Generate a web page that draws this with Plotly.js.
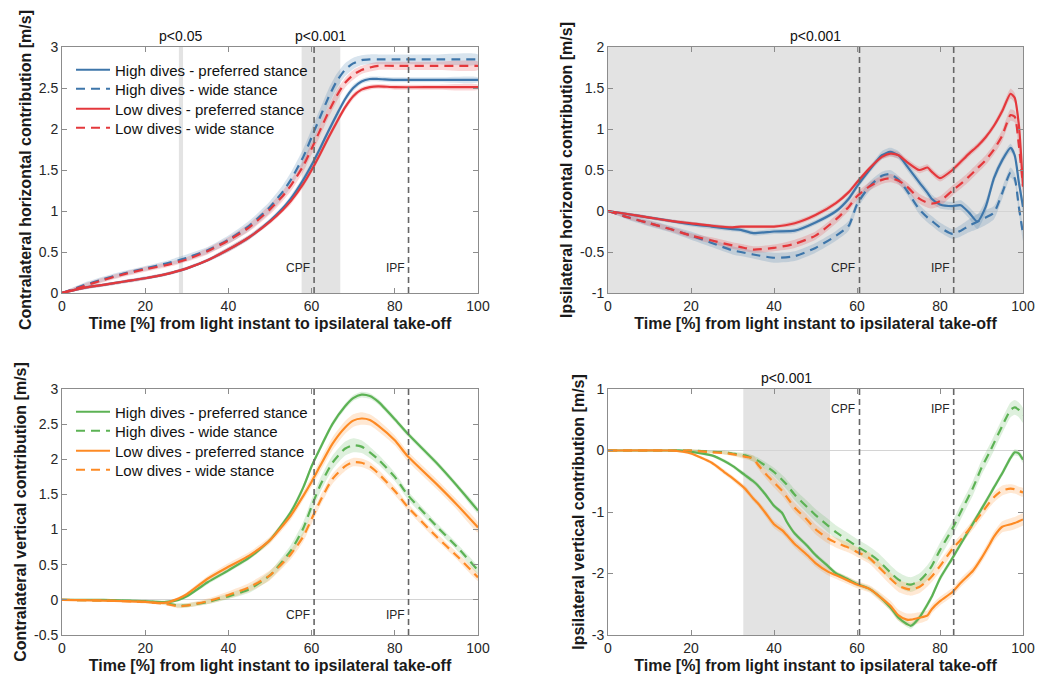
<!DOCTYPE html>
<html>
<head>
<meta charset="utf-8">
<script src="https://cdn.plot.ly/plotly-3.0.1.min.js"></script>
<style>html,body{margin:0;padding:0;background:#fff;}#chart{width:1037px;height:680px;}</style>
</head>
<body>
<div id="chart"></div>
<script>
// ---------- DATA ----------
const seriesNames = ["High dives - preferred stance", "High dives - wide stance", "Low dives - preferred stance", "Low dives - wide stance"];
const xTicks = [0, 20, 40, 60, 80, 100];
const xTickText = ["0", "20", "40", "60", "80", "100"];
const eventX = [60.6, 83.3];
const eventLabels = ["CPF", "IPF"];

// Panel A: contralateral horizontal contribution
const xA = [0,5,10,15,20,25,28,30,35,40,45,50,53,55,58,60,62,64,66,68,70,72,74,76,80,90,100];
const highPrefA = [0,0.06,0.10,0.14,0.18,0.23,0.27,0.30,0.40,0.53,0.68,0.88,1.03,1.15,1.38,1.56,1.76,1.97,2.17,2.36,2.50,2.58,2.61,2.61,2.60,2.60,2.60];
const highWideA = [0,0.09,0.17,0.24,0.30,0.36,0.40,0.43,0.52,0.65,0.82,1.05,1.23,1.38,1.66,1.90,2.14,2.38,2.58,2.72,2.80,2.84,2.85,2.85,2.85,2.85,2.85];
const lowPrefA  = [0,0.06,0.10,0.14,0.18,0.23,0.27,0.30,0.40,0.53,0.68,0.87,1.01,1.12,1.33,1.50,1.69,1.89,2.08,2.26,2.40,2.48,2.51,2.52,2.51,2.51,2.51];
const lowWideA  = [0,0.08,0.16,0.23,0.29,0.34,0.38,0.41,0.51,0.64,0.80,1.02,1.18,1.31,1.55,1.76,1.98,2.20,2.40,2.56,2.66,2.72,2.75,2.77,2.77,2.77,2.77];
const ciHighPrefA = [0.01,0.02,0.02,0.02,0.02,0.02,0.02,0.02,0.02,0.03,0.03,0.03,0.03,0.04,0.04,0.04,0.04,0.04,0.04,0.04,0.04,0.03,0.03,0.03,0.03,0.03,0.03];
const ciHighWideA = [0.01,0.03,0.03,0.03,0.03,0.03,0.04,0.04,0.04,0.05,0.06,0.07,0.08,0.09,0.10,0.10,0.10,0.10,0.09,0.08,0.07,0.06,0.06,0.06,0.06,0.06,0.06];
const ciLowPrefA  = [0.01,0.02,0.02,0.02,0.02,0.02,0.02,0.02,0.02,0.03,0.03,0.03,0.03,0.04,0.04,0.04,0.04,0.04,0.04,0.04,0.04,0.03,0.03,0.03,0.03,0.03,0.03];
const ciLowWideA  = [0.01,0.03,0.03,0.03,0.03,0.03,0.03,0.03,0.04,0.04,0.05,0.06,0.06,0.07,0.07,0.07,0.07,0.07,0.07,0.06,0.06,0.05,0.05,0.05,0.05,0.05,0.05];
const sigA = [[28.1, 29.1], [57.6, 66.9]];
const sigLabelsA = ["p<0.05", "p<0.001"];
const yTicksA = [0, 0.5, 1, 1.5, 2, 2.5, 3];
const yTickTextA = ["0", "0.5", "1", "1.5", "2", "2.5", "3"];

// Panel B: ipsilateral horizontal contribution
const xB = [0,5,10,15,20,25,30,32,35,40,45,50,55,58,60,63,66,68,70,72,75,77,78,80,83,85,87,89,91,93,95,97,98,99,100];
const highPrefB = [0,-0.04,-0.08,-0.12,-0.16,-0.19,-0.22,-0.23,-0.27,-0.25,-0.24,-0.14,0.00,0.15,0.30,0.50,0.68,0.72,0.68,0.55,0.35,0.22,0.15,0.08,0.06,0.07,-0.02,-0.13,0.05,0.40,0.62,0.77,0.68,0.35,0.05];
const highWideB = [0,-0.08,-0.15,-0.22,-0.30,-0.39,-0.48,-0.50,-0.53,-0.57,-0.55,-0.45,-0.30,-0.18,0.08,0.30,0.43,0.45,0.38,0.25,0.02,-0.08,-0.12,-0.20,-0.28,-0.24,-0.18,-0.13,-0.08,-0.02,0.22,0.47,0.40,0.05,-0.28];
const lowPrefB  = [0,-0.04,-0.08,-0.12,-0.15,-0.18,-0.20,-0.19,-0.19,-0.19,-0.15,-0.05,0.10,0.23,0.35,0.52,0.66,0.70,0.68,0.60,0.50,0.53,0.48,0.40,0.50,0.60,0.70,0.79,0.90,1.04,1.22,1.43,1.38,1.05,0.30];
const lowWideB  = [0,-0.08,-0.15,-0.22,-0.30,-0.36,-0.42,-0.44,-0.47,-0.45,-0.40,-0.30,-0.10,0.05,0.18,0.30,0.38,0.40,0.37,0.30,0.15,0.10,0.09,0.12,0.25,0.33,0.42,0.52,0.62,0.75,0.92,1.17,1.15,0.80,0.30];
const ciHighPrefB = [0.01,0.02,0.02,0.02,0.03,0.03,0.03,0.03,0.03,0.03,0.03,0.03,0.03,0.04,0.04,0.04,0.05,0.05,0.05,0.05,0.05,0.05,0.05,0.05,0.05,0.06,0.07,0.09,0.08,0.06,0.05,0.05,0.05,0.06,0.08];
const ciHighWideB = [0.01,0.03,0.04,0.04,0.05,0.05,0.05,0.05,0.05,0.06,0.06,0.06,0.06,0.06,0.06,0.06,0.05,0.05,0.05,0.05,0.06,0.06,0.06,0.06,0.06,0.07,0.08,0.09,0.09,0.08,0.07,0.06,0.06,0.07,0.08];
const ciLowPrefB  = [0.01,0.02,0.02,0.02,0.02,0.02,0.02,0.02,0.02,0.02,0.03,0.03,0.03,0.03,0.03,0.03,0.03,0.04,0.04,0.04,0.04,0.04,0.04,0.04,0.04,0.04,0.04,0.04,0.04,0.04,0.05,0.06,0.06,0.07,0.08];
const ciLowWideB  = [0.01,0.02,0.03,0.03,0.03,0.04,0.04,0.04,0.04,0.04,0.05,0.05,0.05,0.05,0.05,0.05,0.05,0.05,0.05,0.05,0.06,0.06,0.06,0.06,0.06,0.06,0.06,0.06,0.06,0.06,0.07,0.07,0.07,0.08,0.08];
const sigB = [[0, 100]];
const sigLabelsB = ["p<0.001"];
const yTicksB = [-1, -0.5, 0, 0.5, 1, 1.5, 2];
const yTickTextB = ["-1", "-0.5", "0", "0.5", "1", "1.5", "2"];

// Panel C: contralateral vertical contribution
const xC = [0,10,20,25,28,30,35,40,45,50,55,58,60,62,65,68,70,72,74,76,80,83,90,95,100];
const highPrefC = [0,0.00,-0.02,-0.03,0.00,0.05,0.25,0.42,0.60,0.85,1.25,1.60,1.90,2.15,2.50,2.75,2.87,2.92,2.90,2.82,2.57,2.37,1.95,1.62,1.27];
const highWideC = [0,-0.01,-0.02,-0.05,-0.08,-0.08,-0.03,0.05,0.15,0.35,0.70,1.02,1.33,1.62,1.95,2.15,2.20,2.18,2.10,2.00,1.75,1.50,1.05,0.75,0.42];
const lowPrefC  = [0,-0.01,-0.03,-0.04,0.02,0.08,0.30,0.47,0.63,0.85,1.20,1.48,1.68,1.90,2.22,2.45,2.55,2.58,2.56,2.48,2.27,2.05,1.65,1.35,1.03];
const lowWideC  = [0,-0.01,-0.03,-0.06,-0.09,-0.08,-0.02,0.07,0.18,0.35,0.65,0.90,1.15,1.40,1.72,1.90,1.96,1.95,1.90,1.80,1.55,1.33,0.90,0.62,0.32];
const ciHighPrefC = [0.01,0.01,0.02,0.02,0.02,0.02,0.03,0.03,0.03,0.03,0.04,0.04,0.04,0.04,0.04,0.04,0.04,0.04,0.04,0.04,0.04,0.04,0.04,0.04,0.04];
const ciHighWideC = [0.01,0.01,0.02,0.02,0.03,0.03,0.03,0.04,0.05,0.06,0.08,0.09,0.10,0.10,0.10,0.10,0.10,0.09,0.08,0.07,0.06,0.06,0.05,0.05,0.05];
const ciLowPrefC  = [0.01,0.01,0.02,0.02,0.02,0.03,0.04,0.05,0.05,0.05,0.06,0.06,0.07,0.08,0.09,0.09,0.09,0.09,0.08,0.08,0.07,0.07,0.07,0.07,0.07];
const ciLowWideC  = [0.01,0.01,0.02,0.02,0.03,0.03,0.04,0.05,0.06,0.07,0.07,0.07,0.07,0.07,0.07,0.07,0.06,0.06,0.06,0.06,0.06,0.05,0.05,0.05,0.05];
const yTicksC = [-0.5, 0, 0.5, 1, 1.5, 2, 2.5, 3];
const yTickTextC = ["-0.5", "0", "0.5", "1", "1.5", "2", "2.5", "3"];

// Panel D: ipsilateral vertical contribution
const xD = [0,15,18,20,25,28,30,33,35,36,38,40,42,43,45,48,50,53,55,58,60,63,65,68,70,72,73,75,77,78,80,83,85,88,90,92,93,95,97,98,99,100];
const highPrefD = [0,0,0,-0.02,-0.08,-0.17,-0.25,-0.40,-0.50,-0.56,-0.72,-0.90,-1.02,-1.15,-1.35,-1.55,-1.70,-1.88,-2.00,-2.10,-2.17,-2.25,-2.35,-2.55,-2.72,-2.82,-2.85,-2.72,-2.50,-2.38,-2.08,-1.75,-1.52,-1.18,-0.95,-0.72,-0.60,-0.37,-0.12,-0.03,-0.05,-0.15];
const highWideD = [0,0,0,0,-0.02,-0.03,-0.05,-0.08,-0.13,-0.16,-0.25,-0.35,-0.48,-0.55,-0.72,-0.92,-1.05,-1.22,-1.33,-1.47,-1.56,-1.68,-1.78,-1.98,-2.10,-2.17,-2.18,-2.12,-1.98,-1.88,-1.62,-1.27,-1.00,-0.60,-0.28,-0.02,0.12,0.40,0.66,0.70,0.66,0.57];
const lowPrefD  = [0,0,-0.02,-0.05,-0.20,-0.35,-0.45,-0.62,-0.78,-0.85,-1.02,-1.20,-1.30,-1.37,-1.52,-1.70,-1.83,-1.97,-2.03,-2.12,-2.18,-2.25,-2.35,-2.52,-2.68,-2.75,-2.75,-2.72,-2.68,-2.58,-2.45,-2.30,-2.15,-1.95,-1.75,-1.52,-1.40,-1.24,-1.20,-1.18,-1.15,-1.12];
const lowWideD  = [0,0,0,0,-0.03,-0.04,-0.06,-0.10,-0.13,-0.22,-0.38,-0.52,-0.66,-0.75,-0.93,-1.13,-1.28,-1.43,-1.50,-1.58,-1.65,-1.75,-1.88,-2.08,-2.20,-2.25,-2.26,-2.22,-2.12,-2.05,-1.88,-1.60,-1.45,-1.20,-1.02,-0.84,-0.76,-0.65,-0.62,-0.63,-0.66,-0.68];
const ciHighPrefD = [0.01,0.01,0.01,0.02,0.02,0.03,0.03,0.04,0.04,0.04,0.04,0.04,0.04,0.04,0.04,0.04,0.04,0.04,0.04,0.04,0.04,0.04,0.05,0.05,0.05,0.05,0.05,0.05,0.05,0.05,0.05,0.05,0.05,0.05,0.05,0.05,0.05,0.05,0.05,0.05,0.05,0.05];
const ciHighWideD = [0.01,0.01,0.01,0.02,0.02,0.03,0.03,0.04,0.05,0.05,0.06,0.07,0.08,0.08,0.09,0.10,0.10,0.11,0.11,0.12,0.12,0.12,0.12,0.12,0.12,0.12,0.12,0.12,0.12,0.12,0.12,0.12,0.12,0.12,0.12,0.12,0.12,0.12,0.12,0.12,0.12,0.12];
const ciLowPrefD  = [0.01,0.01,0.02,0.02,0.03,0.04,0.04,0.05,0.05,0.05,0.06,0.06,0.06,0.06,0.06,0.06,0.06,0.06,0.06,0.06,0.06,0.06,0.07,0.08,0.09,0.10,0.10,0.09,0.08,0.07,0.07,0.07,0.07,0.07,0.07,0.08,0.08,0.09,0.10,0.10,0.10,0.10];
const ciLowWideD  = [0.01,0.01,0.01,0.02,0.02,0.03,0.03,0.04,0.05,0.06,0.07,0.08,0.08,0.08,0.08,0.08,0.08,0.08,0.08,0.08,0.08,0.09,0.09,0.10,0.10,0.10,0.10,0.10,0.09,0.09,0.09,0.08,0.08,0.08,0.08,0.08,0.08,0.08,0.07,0.07,0.07,0.07];
const sigD = [[32.6, 53.5]];
const sigLabelsD = ["p<0.001"];
const yTicksD = [-3, -2, -1, 0, 1];
const yTickTextD = ["-3", "-2", "-1", "0", "1"];

const yTitleA = "Contralateral horizontal contribution [m/s]";
const yTitleB = "Ipsilateral horizontal contribution [m/s]";
const yTitleC = "Contralateral vertical contribution [m/s]";
const yTitleD = "Ipsilateral vertical contribution [m/s]";
const xTitle = "Time [%] from light instant to ipsilateral take-off";
const figTitle = "b) Comparison of stances (HD vs LD)";

// ---------- STYLE ----------
const FONT = "Liberation Sans, Arial, sans-serif";
const BLUE = [62, 118, 170], RED = [228, 56, 60], GREEN = [92, 178, 84], ORANGE = [253, 138, 36];
const rgb = (c) => `rgb(${c[0]},${c[1]},${c[2]})`;
const rgba = (c, a) => `rgba(${c[0]},${c[1]},${c[2]},${a})`;
const DASH = "9px,6px";
const W = 1037, H = 680;

const traces = [];
// one single-entry legend per row, so rows can be spaced like the reference
const legendRowsTop = [70, 89, 109, 128];
const legendRowsBottom = [412, 431, 451, 470];
const legendDefs = {};
function addPanel(x, list, xa, ya, legendPrefix, rows) {
  list.forEach(s => {
    const up = s.y.map((v, i) => v + s.ci[i]);
    const lo = s.y.map((v, i) => v - s.ci[i]);
    traces.push({
      x: x.concat(x.slice().reverse()),
      y: up.concat(lo.slice().reverse()),
      xaxis: xa, yaxis: ya, type: "scatter", mode: "lines",
      fill: "toself", fillcolor: rgba(s.c, 0.2),
      line: {width: 0, shape: "spline", smoothing: 0.6},
      hoverinfo: "skip", showlegend: false
    });
  });
  list.forEach((s, k) => {
    const t = {
      x: x, y: s.y, xaxis: xa, yaxis: ya, type: "scatter", mode: "lines",
      name: s.name,
      line: {color: rgb(s.c), width: 2.2, dash: s.dash ? DASH : "solid", shape: "spline", smoothing: 0.6},
      showlegend: legendPrefix !== null
    };
    if (legendPrefix !== null) {
      const idx = legendPrefix + k;
      const key = idx === 1 ? "legend" : "legend" + idx;
      t.legend = key;
      legendDefs[key] = {
        x: 71 / W, y: 1 - rows[k] / H, xanchor: "left", yanchor: "middle",
        bgcolor: "rgba(0,0,0,0)", borderwidth: 0, itemwidth: 34,
        font: {family: FONT, size: 15, color: "#111"}
      };
    }
    traces.push(t);
  });
}

addPanel(xA, [
  {y: highPrefA, ci: ciHighPrefA, c: BLUE, dash: false, name: seriesNames[0]},
  {y: highWideA, ci: ciHighWideA, c: BLUE, dash: true, name: seriesNames[1]},
  {y: lowPrefA, ci: ciLowPrefA, c: RED, dash: false, name: seriesNames[2]},
  {y: lowWideA, ci: ciLowWideA, c: RED, dash: true, name: seriesNames[3]}
], "x", "y", 1, legendRowsTop);
addPanel(xB, [
  {y: highPrefB, ci: ciHighPrefB, c: BLUE, dash: false},
  {y: highWideB, ci: ciHighWideB, c: BLUE, dash: true},
  {y: lowPrefB, ci: ciLowPrefB, c: RED, dash: false},
  {y: lowWideB, ci: ciLowWideB, c: RED, dash: true}
], "x2", "y2", null, null);
addPanel(xC, [
  {y: highPrefC, ci: ciHighPrefC, c: GREEN, dash: false, name: seriesNames[0]},
  {y: highWideC, ci: ciHighWideC, c: GREEN, dash: true, name: seriesNames[1]},
  {y: lowPrefC, ci: ciLowPrefC, c: ORANGE, dash: false, name: seriesNames[2]},
  {y: lowWideC, ci: ciLowWideC, c: ORANGE, dash: true, name: seriesNames[3]}
], "x3", "y3", 5, legendRowsBottom);
addPanel(xD, [
  {y: highPrefD, ci: ciHighPrefD, c: GREEN, dash: false},
  {y: highWideD, ci: ciHighWideD, c: GREEN, dash: true},
  {y: lowPrefD, ci: ciLowPrefD, c: ORANGE, dash: false},
  {y: lowWideD, ci: ciLowWideD, c: ORANGE, dash: true}
], "x4", "y4", null, null);

const dxL = [62 / W, 478 / W], dxR = [608 / W, 1023 / W];
const dyT = [1 - 293 / H, 1 - 47 / H], dyB = [1 - 635 / H, 1 - 389 / H];

function xaxis(domain, anchor) {
  return {
    domain: domain, anchor: anchor, range: [0, 100],
    tickmode: "array", tickvals: xTicks, ticktext: xTickText,
    ticks: "inside", ticklen: 5, tickcolor: "#8c8c8c", showline: true, linecolor: "#8c8c8c", linewidth: 1,
    mirror: "ticks", showgrid: false, zeroline: false,
    tickfont: {family: FONT, size: 14, color: "#262626"},
    title: {text: xTitle, font: {family: FONT, size: 16, color: "#1a1a1a", weight: "bold"}, standoff: 5}
  };
}
function yaxis(domain, anchor, range, tv, tt, title) {
  return {
    domain: domain, anchor: anchor, range: range,
    tickmode: "array", tickvals: tv, ticktext: tt,
    ticks: "inside", ticklen: 5, tickcolor: "#8c8c8c", showline: true, linecolor: "#8c8c8c", linewidth: 1,
    mirror: "ticks", showgrid: false, zeroline: true, zerolinecolor: "#d4d4d4", zerolinewidth: 1,
    tickfont: {family: FONT, size: 14, color: "#262626"},
    title: {text: title, font: {family: FONT, size: 16, color: "#1a1a1a", weight: "bold"}, standoff: 3}
  };
}

const shapes = [];
const annotations = [];
function sigRects(list, labels, xr, yr) {
  list.forEach((r, i) => {
    shapes.push({type: "rect", xref: xr, yref: yr + " domain", x0: r[0], x1: r[1], y0: 0, y1: 1,
      fillcolor: "#e3e3e3", line: {width: 0}, layer: "below"});
    annotations.push({xref: xr, yref: yr + " domain", x: (r[0] + r[1]) / 2, y: 1, yanchor: "bottom", yshift: 1,
      text: labels[i], showarrow: false, font: {family: FONT, size: 14, color: "#111"}});
  });
}
sigRects(sigA, sigLabelsA, "x", "y");
sigRects(sigB, sigLabelsB, "x2", "y2");
sigRects(sigD, sigLabelsD, "x4", "y4");

const eventLabelY = {x: 0.3, x2: -0.7, x3: -0.22, x4: 0.68};
[["x", "y"], ["x2", "y2"], ["x3", "y3"], ["x4", "y4"]].forEach(([xr, yr]) => {
  eventX.forEach((ex, i) => {
    shapes.push({type: "line", xref: xr, yref: yr + " domain", x0: ex, x1: ex, y0: 0, y1: 1,
      line: {color: "#666666", width: 1.6, dash: "6px,4px"}, layer: "above"});
    annotations.push({xref: xr, yref: yr, x: ex, y: eventLabelY[xr], xanchor: "right", xshift: -2,
      text: eventLabels[i], showarrow: false, font: {family: FONT, size: 12, color: "#262626"}});
  });
});

// figure title: cut off by the top edge in the reference, only descenders show
annotations.push({xref: "paper", yref: "paper", x: 20 / W, y: 1, xanchor: "left", yanchor: "bottom", yshift: -2,
  text: "<b>" + figTitle + "</b>", showarrow: false, font: {family: FONT, size: 24, color: "#111"}});

const layout = Object.assign({
  width: W, height: H, margin: {l: 0, r: 0, t: 0, b: 0},
  paper_bgcolor: "#ffffff", plot_bgcolor: "rgba(0,0,0,0)",
  showlegend: true,
  xaxis: xaxis(dxL, "y"), yaxis: yaxis(dyT, "x", [0, 3], yTicksA, yTickTextA, yTitleA),
  xaxis2: xaxis(dxR, "y2"), yaxis2: yaxis(dyT, "x2", [-1, 2], yTicksB, yTickTextB, yTitleB),
  xaxis3: xaxis(dxL, "y3"), yaxis3: yaxis(dyB, "x3", [-0.5, 3], yTicksC, yTickTextC, yTitleC),
  xaxis4: xaxis(dxR, "y4"), yaxis4: yaxis(dyB, "x4", [-3, 1], yTicksD, yTickTextD, yTitleD),
  shapes: shapes, annotations: annotations
}, legendDefs);

Plotly.newPlot("chart", traces, layout, {displayModeBar: false, staticPlot: true});
</script>
</body>
</html>
